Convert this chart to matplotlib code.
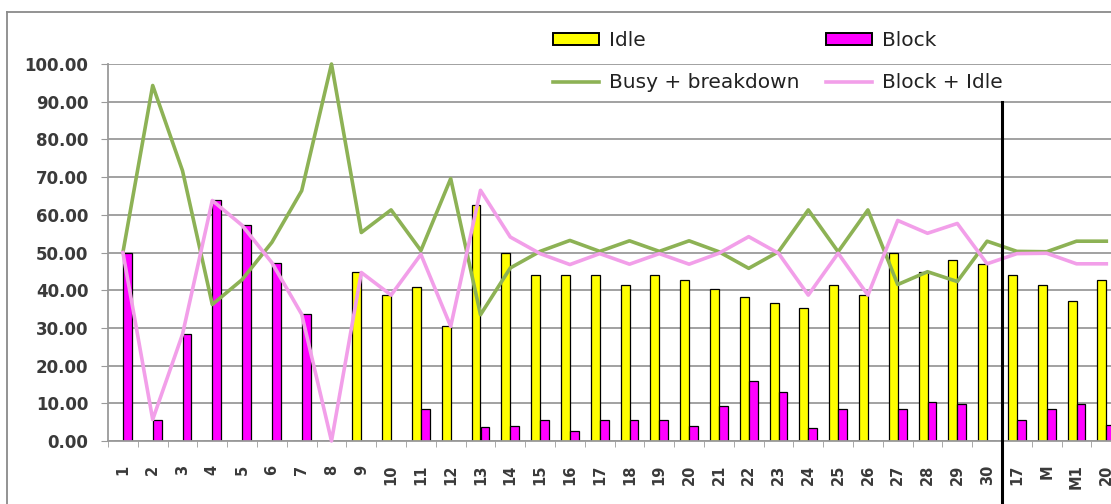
import numpy as np
import matplotlib
matplotlib.use("Agg")
import matplotlib.pyplot as plt
from matplotlib.lines import Line2D

categories = [str(i) for i in range(1, 31)] + ["17", "M", "M1", "20"]

idle = [0, 0, 0, 0, 0, 0, 0, 0, 44.7, 38.7, 40.9, 30.4, 62.7, 50.0, 44.1, 44.1,
        44.1, 41.3, 44.1, 42.8, 40.4, 38.2, 36.7, 35.3, 41.3, 38.7, 50.0, 44.7,
        47.9, 47.0, 44.1, 41.3, 37.2, 42.8]
block = [50.0, 5.7, 28.3, 63.8, 57.2, 47.3, 33.6, 0, 0, 0, 8.6, 0, 3.8, 4.1, 5.6,
         2.7, 5.6, 5.6, 5.6, 4.1, 9.4, 16.0, 13.1, 3.4, 8.5, 0, 8.5, 10.4, 9.8, 0,
         5.6, 8.5, 9.8, 4.2]
busy_breakdown = [50.0, 94.3, 71.7, 36.2, 42.8, 52.7, 66.4, 100.0, 55.3, 61.3, 50.5,
                  69.6, 33.5, 45.9, 50.3, 53.2, 50.3, 53.1, 50.3, 53.1, 50.2, 45.8,
                  50.2, 61.3, 50.2, 61.3, 41.5, 44.9, 42.3, 53.0, 50.3, 50.2, 53.0, 53.0]
block_idle = [50.0, 5.7, 28.3, 63.8, 57.2, 47.3, 33.6, 0.0, 44.7, 38.7, 49.5, 30.4,
              66.5, 54.1, 49.7, 46.8, 49.7, 46.9, 49.7, 46.9, 49.8, 54.2, 49.8, 38.7,
              49.8, 38.7, 58.5, 55.1, 57.7, 47.0, 49.7, 49.8, 47.0, 47.0]

W, H = 1111, 504
fig = plt.figure(figsize=(W / 100, H / 100), dpi=100)

# plot area in pixels: left 108, 0 at y=441, 100 at y=64, 29.8 px per category
n = len(categories)
ax = fig.add_axes([108 / W, (H - 441) / H, n * 29.8 / W, (441 - 64) / H])

x = np.arange(n)
bw = 0.3
grid_c = "#9a9a9a"

ax.set_axisbelow(True)
ax.yaxis.grid(True, color=grid_c, lw=1.3)

b1 = ax.bar(x - bw / 2, idle, bw, color="#ffff00", edgecolor="black", lw=0.9,
            label="Idle", zorder=2)
b2 = ax.bar(x + bw / 2, block, bw, color="#ff00ff", edgecolor="black", lw=0.9,
            label="Block", zorder=2)
l1, = ax.plot(x, busy_breakdown, color="#8db255", lw=2.6, label="Busy + breakdown",
              zorder=3, clip_on=False)
l2, = ax.plot(x, block_idle, color="#f29fe9", lw=2.6, label="Block + Idle",
              zorder=3, clip_on=False)

# separator line between the two groups
ax.plot([29.5, 29.5], [90, -17], color="black", lw=2.2, clip_on=False, zorder=4)

ax.set_xlim(-0.5, n - 0.5)
ax.set_ylim(0, 100)
ax.set_yticks(np.arange(0, 101, 10))
ax.set_yticklabels([f"{v:.2f}" for v in range(0, 101, 10)])
ax.set_xticks(x)
ax.set_xticklabels(categories, rotation=90)
ax.set_xticks(np.arange(-0.5, n, 1), minor=True)

ax.tick_params(axis="y", length=5, color=grid_c, pad=9, labelsize=12,
               labelcolor="#3a3a3a")
ax.tick_params(axis="x", which="major", length=0, pad=17, labelsize=10.5,
               labelcolor="#3a3a3a")
ax.tick_params(axis="x", which="minor", length=4, color=grid_c)
for lab in ax.get_xticklabels() + ax.get_yticklabels():
    lab.set_fontweight("bold")

for s in ["top", "right"]:
    ax.spines[s].set_visible(False)
ax.spines["left"].set_color(grid_c)
ax.spines["bottom"].set_color(grid_c)
ax.spines["left"].set_linewidth(1.3)
ax.spines["bottom"].set_linewidth(1.3)

# column-wise fill: Idle / Busy in col 1, Block / Block + Idle in col 2
leg = fig.legend([b1, l1, b2, l2],
                 ["Idle", "Busy + breakdown", "Block", "Block + Idle"],
                 loc="upper left", bbox_to_anchor=(553 / W, 1 - 31 / H), ncol=2,
                 frameon=False, fontsize=14.5, borderpad=0, borderaxespad=0,
                 handlelength=2.3, handleheight=0.5, handletextpad=0.5,
                 columnspacing=1.3, labelspacing=1.15)
for t in leg.get_texts():
    t.set_color("#222222")
for p in leg.get_patches():
    p.set_linewidth(1.4)

# outer chart frame (cropped at right and bottom)
fig.add_artist(Line2D([7 / W, 1], [1 - 12 / H, 1 - 12 / H], color="#8a8a8a", lw=1.3))
fig.add_artist(Line2D([7 / W, 7 / W], [0, 1 - 12 / H], color="#8a8a8a", lw=1.3))

fig.savefig("out.png", dpi=100)
